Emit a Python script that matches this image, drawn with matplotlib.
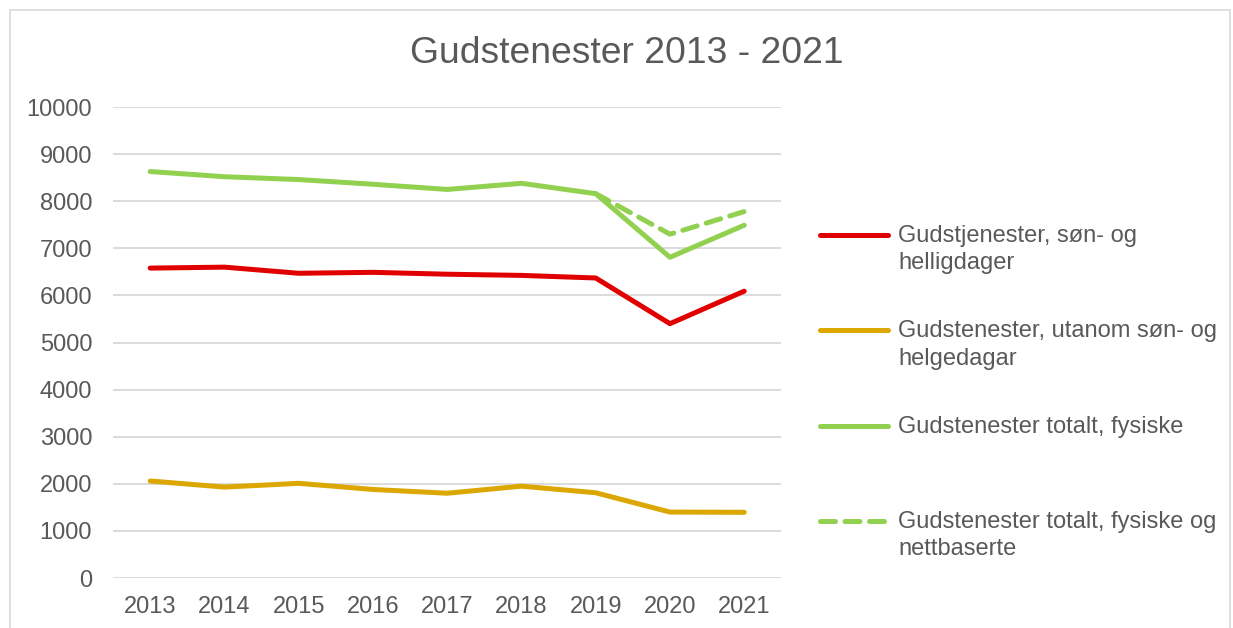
import matplotlib.pyplot as plt
from matplotlib.lines import Line2D
from matplotlib.patches import Rectangle

plt.rcParams["font.family"] = ["Liberation Sans", "DejaVu Sans"]

years = [2013, 2014, 2015, 2016, 2017, 2018, 2019, 2020, 2021]
son_helligdager = [6580, 6600, 6470, 6490, 6450, 6425, 6370, 5400, 6090]
utanom = [2060, 1930, 2010, 1880, 1800, 1950, 1810, 1400, 1395]
totalt_fysiske = [8630, 8520, 8460, 8360, 8250, 8380, 8160, 6810, 7490]
totalt_nett_years = [2019, 2020, 2021]
totalt_nett = [8160, 7300, 7780]

labels = [
    "Gudstjenester, søn- og\nhelligdager",
    "Gudstenester, utanom søn- og\nhelgedagar",
    "Gudstenester totalt, fysiske",
    "Gudstenester totalt, fysiske og\nnettbaserte",
]
colors = ["#e00000", "#dca700", "#92d050", "#92d050"]
styles = ["-", "-", "-", (0, (3.0, 1.9))]

grey = "#595959"

fig = plt.figure(figsize=(12.33, 6.28), dpi=100)
ax = fig.add_axes([0.0917, 0.0796, 0.542, 0.750])

xs = list(range(len(years)))
ax.plot(xs, son_helligdager, color=colors[0], lw=3.6, ls=styles[0],
        solid_capstyle="round")
ax.plot(xs, utanom, color=colors[1], lw=3.6, ls=styles[1],
        solid_capstyle="round")
ax.plot(xs, totalt_fysiske, color=colors[2], lw=3.6, ls=styles[2],
        solid_capstyle="round")
nx = [years.index(y) for y in totalt_nett_years]
ax.plot(nx, totalt_nett, color=colors[3], lw=3.6, ls=styles[3],
        dash_capstyle="round")

ax.set_xlim(-0.5, len(years) - 0.5)
ax.set_ylim(0, 10000)
ax.set_yticks(range(0, 10001, 1000))
ax.set_xticks(xs)
ax.set_xticklabels([str(y) for y in years])
ax.tick_params(length=0, labelsize=17, labelcolor=grey)
ax.tick_params(axis="x", pad=13)
ax.tick_params(axis="y", pad=15)
ax.grid(axis="y", color="#d9d9d9", lw=1.3)
ax.set_axisbelow(True)
for s in ax.spines.values():
    s.set_visible(False)

fig.text(0.508, 0.915, "Gudstenester 2013 - 2021", ha="center", va="center",
         fontsize=26.8, color=grey)

# legend drawn by hand so the key sits on the first text line
W, H = 1233, 628
for i, (lab, c, st) in enumerate(zip(labels, colors, styles)):
    y = 235 + i * 95.3
    fig.add_artist(Line2D([820 / W, 888 / W], [1 - y / H, 1 - y / H],
                          color=c, lw=3.6, ls=st, solid_capstyle="round",
                          dash_capstyle="round"))
    fig.text(898 / W, 1 - (y - 10) / H, lab, ha="left", va="top",
             fontsize=17, color=grey, linespacing=1.32)

fig.add_artist(Rectangle((10 / W, -0.01), 1220 / W, 1 - 10 / H + 0.01,
                         fill=False, ec="#d9d9d9", lw=1.2))

fig.savefig("out.png", dpi=100)
